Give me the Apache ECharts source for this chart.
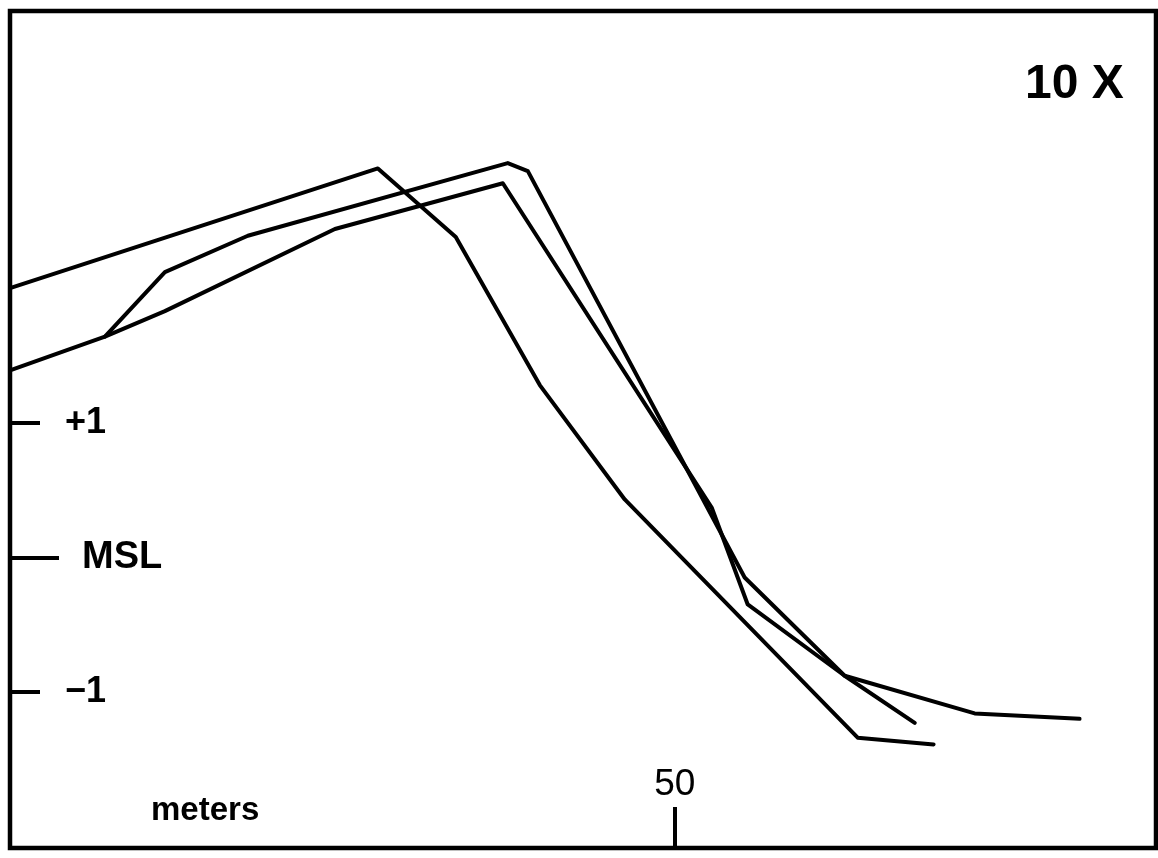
<!DOCTYPE html>
<html>
<head>
<meta charset="utf-8">
<script src="https://cdn.jsdelivr.net/npm/echarts@6/dist/echarts.min.js"></script>
<style>
  html, body { margin: 0; padding: 0; background: #fff; }
  #chart { width: 1158px; height: 858px; }
</style>
</head>
<body>
<div id="chart"></div>
<script>
// Beach profiles: distance along the line (m) vs elevation relative to mean sea level (m)
const profileA = [[0, 2.00], [27.67, 2.89], [33.53, 2.38], [39.85, 1.28], [46.24, 0.43], [63.76, -1.34], [69.47, -1.39]];
const profileB = [[0, 1.39], [7.14, 1.64], [11.65, 1.83], [24.44, 2.44], [37.07, 2.78], [52.78, 0.37], [55.49, -0.35], [62.78, -0.88], [68.05, -1.23]];
const profileC = [[7.14, 1.64], [11.65, 2.12], [17.89, 2.39], [37.44, 2.93], [38.95, 2.87], [55.26, -0.15], [62.78, -0.88], [72.56, -1.16], [80.45, -1.20]];

// Axis marks
const xTickValues = [50];
const xTickLabels = ['50'];
const yTickValues = [-1, 1];
const yTickLabels = ['−1', '+1'];
const mslValues = [0];
const mslLabels = ['MSL'];

// Plot extents (meters)
const xMin = 0, xMax = 86.2;
const yMin = -2.16, yMax = 4.06;

const exaggeration = '10 X';
const distanceUnit = 'meters';

const FONT = '"Liberation Sans", Arial, sans-serif';

function labelFor(values, labels) {
  return function (v) {
    const i = values.findIndex(t => Math.abs(t - v) < 1e-9);
    return i >= 0 ? labels[i] : '';
  };
}

const chart = echarts.init(document.getElementById('chart'), null, { renderer: 'canvas' });

const lineStyle = { color: '#000', width: 4, join: 'round', cap: 'round' };
function profileSeries(name, data) {
  return {
    name: name, type: 'line', data: data, symbol: 'none',
    lineStyle: lineStyle, xAxisIndex: 0, yAxisIndex: 0, silent: true
  };
}

chart.setOption({
  animation: false,
  backgroundColor: '#fff',
  title: [
    { text: exaggeration, left: 1020, top: 56,
      textStyle: { fontFamily: FONT, fontSize: 48, fontWeight: 'bold', color: '#000' } },
    { text: distanceUnit, left: 146, top: 789,
      textStyle: { fontFamily: FONT, fontSize: 33, fontWeight: 'bold', color: '#000' } }
  ],
  grid: {
    left: 10, right: 2, top: 11, bottom: 10,
    show: true, borderColor: '#000', borderWidth: 4.5, backgroundColor: 'transparent'
  },
  xAxis: {
    type: 'value', min: xMin, max: xMax, position: 'bottom',
    axisLine: { show: false, onZero: false },
    splitLine: { show: false },
    axisTick: { show: true, inside: true, length: 41, customValues: xTickValues,
      lineStyle: { color: '#000', width: 4 } },
    axisLabel: { show: true, inside: true, margin: 45, customValues: xTickValues,
      formatter: labelFor(xTickValues, xTickLabels),
      fontFamily: FONT, fontSize: 37, color: '#000' }
  },
  yAxis: [
    {
      type: 'value', min: yMin, max: yMax, position: 'left',
      axisLine: { show: false, onZero: false },
      splitLine: { show: false },
      axisTick: { show: true, inside: true, length: 30, customValues: yTickValues,
        lineStyle: { color: '#000', width: 4 } },
      axisLabel: { show: true, inside: true, margin: 55, customValues: yTickValues,
        formatter: labelFor(yTickValues, yTickLabels),
        fontFamily: FONT, fontSize: 36, fontWeight: 'bold', color: '#000' }
    },
    {
      type: 'value', min: yMin, max: yMax, position: 'left',
      axisLine: { show: false, onZero: false },
      splitLine: { show: false },
      axisTick: { show: true, inside: true, length: 49, customValues: mslValues,
        lineStyle: { color: '#000', width: 4 } },
      axisLabel: { show: true, inside: true, margin: 72, customValues: mslValues,
        formatter: labelFor(mslValues, mslLabels),
        fontFamily: FONT, fontSize: 38, fontWeight: 'bold', color: '#000' }
    }
  ],
  series: [
    profileSeries('Profile A', profileA),
    profileSeries('Profile B', profileB),
    profileSeries('Profile C', profileC)
  ]
});
</script>
</body>
</html>
